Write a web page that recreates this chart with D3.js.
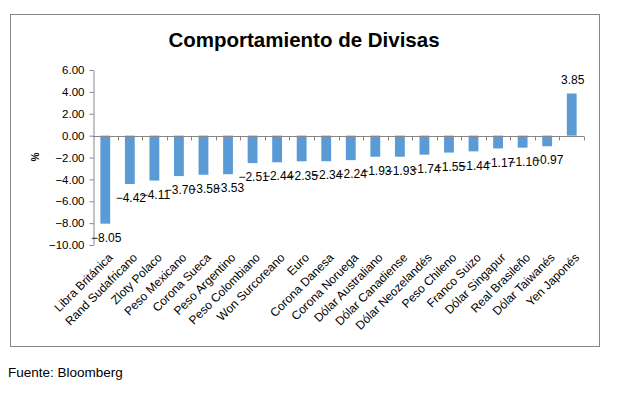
<!DOCTYPE html>
<html>
<head>
<meta charset="utf-8">
<script src="https://cdn.jsdelivr.net/npm/d3@7"></script>
<style>
  body { margin: 0; background: #fff; }
  text { font-family: "Liberation Sans", Arial, sans-serif; fill: #000; }
</style>
</head>
<body>
<div id="chart"></div>
<script>
// chart data
const categories = [
    "Libra Británica", "Rand Sudafricano", "Zloty Polaco", "Peso Mexicano",
    "Corona Sueca", "Peso Argentino", "Peso Colombiano", "Won Surcoreano",
    "Euro", "Corona Danesa", "Corona Noruega", "Dólar Australiano",
    "Dólar Canadiense", "Dólar Neozelandés", "Peso Chileno", "Franco Suizo",
    "Dólar Singapur", "Real Brasileño", "Dólar Taiwanés", "Yen Japonés"
];
const values = [-8.05, -4.42, -4.11, -3.70, -3.58, -3.53, -2.51, -2.44, -2.35, -2.34,
    -2.24, -1.93, -1.93, -1.74, -1.55, -1.44, -1.17, -1.10, -0.97, 3.85];
const yTicks = [6, 4, 2, 0, -2, -4, -6, -8, -10];

const title = "Comportamiento de Divisas";
const source = "Fuente: Bloomberg";

const width = 643, height = 394;
const axisColor = "#868686";
const barColor = "#5B9BD5";

const svg = d3.select("#chart")
    .append("svg")
    .attr("width", width)
    .attr("height", height);

// outer frame of the chart area
svg.append("rect")
    .attr("x", 10.5)
    .attr("y", 14.5)
    .attr("width", 589)
    .attr("height", 332)
    .attr("fill", "#fff")
    .attr("stroke", axisColor)
    .attr("stroke-width", 1);

svg.append("text")
    .attr("x", 304)
    .attr("y", 42)
    .attr("text-anchor", "middle")
    .attr("dominant-baseline", "middle")
    .attr("font-size", "20.5px")
    .attr("font-weight", "bold")
    .text(title);

const x = d3.scaleBand()
    .domain(categories)
    .range([93, 584])
    .paddingInner(0.6)
    .paddingOuter(0.3);

const y = d3.scaleLinear()
    .domain([-10, 6])
    .range([245, 70]);

// y axis
const yAxis = svg.append("g")
    .attr("transform", "translate(93.5,0)")
    .call(d3.axisLeft(y).tickValues(yTicks).tickFormat(d3.format(".2f")).tickSize(4).tickSizeOuter(0));
yAxis.select(".domain").attr("stroke", axisColor);
yAxis.selectAll(".tick line").attr("stroke", axisColor);
yAxis.selectAll(".tick text").attr("x", -9).attr("font-size", "11.5px")
    .attr("font-family", "Liberation Sans, Arial, sans-serif");

svg.append("text")
    .attr("transform", "translate(36,157) rotate(-90)")
    .attr("text-anchor", "middle")
    .attr("dominant-baseline", "middle")
    .attr("font-size", "10px")
    .attr("font-weight", "bold")
    .text("%");

// bars
svg.append("g").selectAll("rect")
    .data(values)
    .join("rect")
    .attr("x", (d, i) => x(categories[i]))
    .attr("width", x.bandwidth())
    .attr("y", d => y(Math.max(0, d)))
    .attr("height", d => Math.abs(y(d) - y(0)))
    .attr("fill", barColor);

// zero line with ticks between categories
const zeroY = Math.round(y(0)) + 0.5;
svg.append("line")
    .attr("x1", 93).attr("x2", 584)
    .attr("y1", zeroY).attr("y2", zeroY)
    .attr("stroke", axisColor);

const boundaries = d3.range(1, categories.length + 1).map(i => 93 + i * x.step());
svg.append("g").selectAll("line")
    .data(boundaries)
    .join("line")
    .attr("x1", d => Math.round(d) + 0.5)
    .attr("x2", d => Math.round(d) + 0.5)
    .attr("y1", zeroY)
    .attr("y2", zeroY + 4)
    .attr("stroke", axisColor);

// data labels
svg.append("g").selectAll("text")
    .data(values)
    .join("text")
    .attr("x", (d, i) => x(categories[i]) + x.bandwidth() / 2 + 1)
    .attr("y", d => d < 0 ? y(d) + 15 : y(d) - 13)
    .attr("text-anchor", "middle")
    .attr("dominant-baseline", "middle")
    .attr("font-size", "12px")
    .text(d => d3.format(".2f")(d));

// category labels, rotated
svg.append("g").selectAll("text")
    .data(categories)
    .join("text")
    .attr("transform", d => `translate(${x(d) + x.bandwidth() / 2 + 6},${256}) rotate(-45)`)
    .attr("text-anchor", "end")
    .attr("dominant-baseline", "middle")
    .attr("font-size", "12px")
    .text(d => d);

svg.append("text")
    .attr("x", 8)
    .attr("y", 373)
    .attr("dominant-baseline", "middle")
    .attr("font-size", "13.5px")
    .text(source);
</script>
</body>
</html>
